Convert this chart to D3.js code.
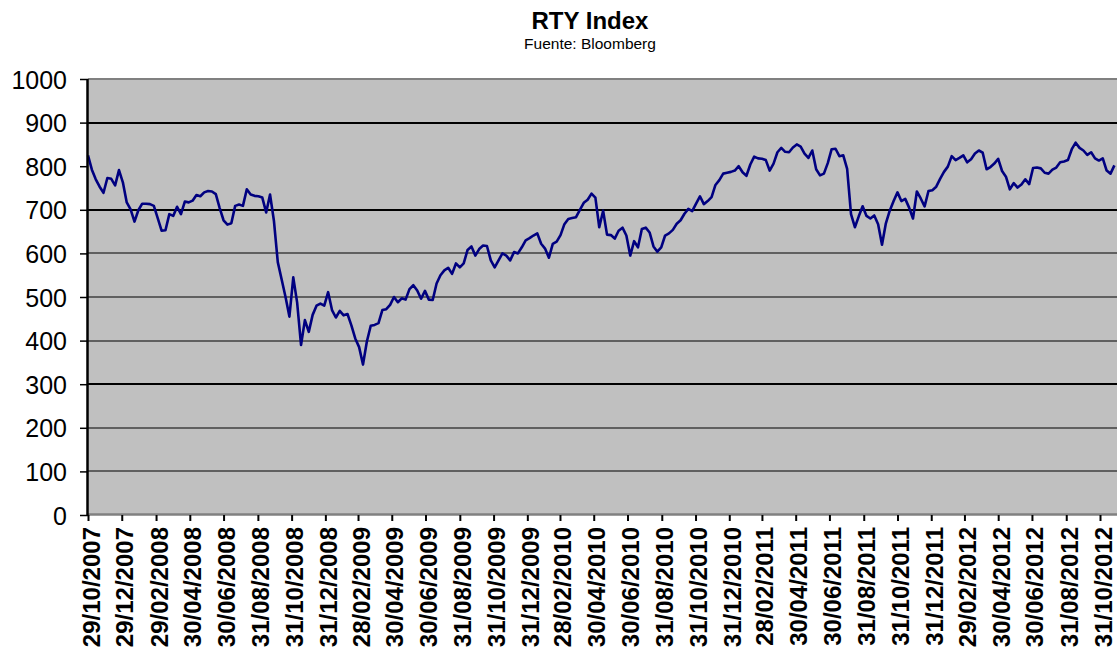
<!DOCTYPE html>
<html>
<head>
<meta charset="utf-8">
<script src="https://cdn.jsdelivr.net/npm/d3@7"></script>
<style>
  body { margin: 0; background: #fff; }
  svg { display: block; font-family: "Liberation Sans", Arial, sans-serif; }
</style>
</head>
<body>
<div id="chart"></div>
<script>
// data: RTY weekly closes, first week 29/10/2007
var firstWeek = "29/10/2007";
var weeklyClose = [
  825, 792, 770, 753, 739, 773, 771, 756, 791, 763,
  717, 701, 673, 699, 714, 714, 713, 709, 681, 652,
  653, 690, 686, 707, 690, 719, 717, 721, 734, 731,
  740, 743, 742, 736, 704, 676, 666, 669, 709, 712,
  709, 747, 735, 732, 731, 728, 694, 735, 675, 580,
  540, 500, 455, 545, 487, 390, 447, 420, 459, 480,
  485, 480, 511, 470, 453, 468, 458, 461, 435, 405,
  385, 345, 398, 434, 436, 440, 470, 472, 482, 500,
  488, 497, 494, 518, 527, 515, 496, 514, 494, 493,
  531, 550, 561, 567, 553, 577, 568, 577, 608, 616,
  595, 610, 618, 617, 584, 568, 584, 600, 595, 584,
  603, 600, 614, 630, 635, 641, 646, 622, 611, 590,
  622, 627, 642, 667, 679, 681, 683, 700, 716, 723,
  737, 728, 660, 698, 643, 642, 634, 652, 659, 641,
  595, 628, 614, 656, 659, 648, 616, 604, 614, 641,
  646, 654, 668, 676, 691, 702, 697, 714, 731, 713,
  720, 729, 757, 768, 783, 785, 787, 790, 800, 786,
  778, 804, 822, 818, 817, 814, 790, 806, 832, 842,
  833, 832, 843, 850, 845, 829, 819, 836, 793, 779,
  783, 807, 839, 840, 823, 825, 794, 690, 660, 685,
  708, 686, 680, 687, 667, 620, 669, 698, 720, 740,
  720, 725, 705, 680, 742, 726, 708, 743, 745, 753,
  771, 787, 799, 823, 814, 819, 825, 809, 816, 829,
  836, 831, 793, 798, 806, 817, 789, 776, 747, 761,
  751, 758, 770, 759, 796, 797, 795, 785, 783, 792,
  797, 809, 811, 814, 839, 854, 842, 836, 826, 832,
  818, 813, 818, 790, 783, 802
];

var xTickLabels = [
  "29/10/2007", "29/12/2007", "29/02/2008", "30/04/2008", "30/06/2008",
  "31/08/2008", "31/10/2008", "31/12/2008", "28/02/2009", "30/04/2009",
  "30/06/2009", "31/08/2009", "31/10/2009", "31/12/2009", "28/02/2010",
  "30/04/2010", "30/06/2010", "31/08/2010", "31/10/2010", "31/12/2010",
  "28/02/2011", "30/04/2011", "30/06/2011", "31/08/2011", "31/10/2011",
  "31/12/2011", "29/02/2012", "30/04/2012", "30/06/2012", "31/08/2012",
  "31/10/2012"
];
var yTicks = [0, 100, 200, 300, 400, 500, 600, 700, 800, 900, 1000];
var gridValues = [100, 200, 300, 400, 500, 600, 700, 900];
var thickGrid = [300, 700, 900];

var title = "RTY Index";
var subtitle = "Fuente: Bloomberg";

// 1: dimensions
var W = 1117, H = 658;
var plot = {left: 88, top: 79, right: 1117, bottom: 515};

var parseDate = d3.timeParse("%d/%m/%Y");
var start = parseDate(firstWeek);
var data = weeklyClose.map(function(v, i) {
  return {date: d3.timeDay.offset(start, 7 * i), value: v};
});
var tickDates = xTickLabels.map(parseDate);

// 2: svg
var svg = d3.select("#chart").append("svg")
    .attr("width", W)
    .attr("height", H);

// 3: scales
var x = d3.scaleTime()
    .domain([tickDates[0], tickDates[tickDates.length - 1]])
    .range([88, 1100]);
var y = d3.scaleLinear()
    .domain([0, 1000])
    .range([plot.bottom, plot.top]);

// plot area
svg.append("rect")
    .attr("x", plot.left)
    .attr("y", plot.top)
    .attr("width", plot.right - plot.left)
    .attr("height", plot.bottom - plot.top)
    .style("fill", "#c0c0c0");

// gridlines
svg.selectAll(".grid")
    .data(gridValues)
  .enter().append("line")
    .attr("class", "grid")
    .attr("x1", plot.left)
    .attr("x2", plot.right)
    .attr("y1", function(d) { return Math.round(y(d)); })
    .attr("y2", function(d) { return Math.round(y(d)); })
    .style("stroke", "#000")
    .style("stroke-width", function(d) { return thickGrid.indexOf(d) >= 0 ? 2 : 1.2; });

// top border (gray)
svg.append("line")
    .attr("x1", plot.left).attr("x2", plot.right)
    .attr("y1", plot.top).attr("y2", plot.top)
    .style("stroke", "#808080").style("stroke-width", 2);

// series
var line = d3.line()
    .x(function(d) { return x(d.date); })
    .y(function(d) { return y(d.value); });

svg.append("path")
    .datum(data)
    .attr("d", line)
    .style("fill", "none")
    .style("stroke", "#000080")
    .style("stroke-width", 2.6)
    .style("stroke-linejoin", "round");

// bottom axis line (gray)
svg.append("line")
    .attr("x1", plot.left).attr("x2", plot.right)
    .attr("y1", plot.bottom - 0.5).attr("y2", plot.bottom - 0.5)
    .style("stroke", "#808080").style("stroke-width", 2.5);

// y axis
var yAxis = svg.append("g")
    .attr("transform", "translate(" + plot.left + ",0)")
    .call(d3.axisLeft(y).tickValues(yTicks).tickFormat(d3.format("d")).tickSize(8).tickPadding(13));
yAxis.select(".domain").remove();
yAxis.selectAll(".tick line").style("stroke", "#000").style("stroke-width", 1.5);
yAxis.selectAll(".tick text")
    .style("font-size", "25px")
    .style("font-family", "Liberation Sans, Arial, sans-serif")
    .style("fill", "#000")
    .attr("dy", "0.36em");
svg.append("line")
    .attr("x1", plot.left - 0.5).attr("x2", plot.left - 0.5)
    .attr("y1", plot.top).attr("y2", plot.bottom + 1)
    .style("stroke", "#000").style("stroke-width", 2.5);

// x axis
var xAxis = svg.append("g")
    .attr("transform", "translate(0," + plot.bottom + ")")
    .call(d3.axisBottom(x)
      .tickValues(tickDates)
      .tickFormat(function(d, i) { return xTickLabels[i]; })
      .tickSize(6));
xAxis.select(".domain").remove();
xAxis.selectAll(".tick line").style("stroke", "#000").style("stroke-width", 2);
xAxis.selectAll(".tick text")
    .attr("transform", "translate(11,12) rotate(-90)")
    .attr("x", 0)
    .attr("y", 0)
    .attr("dy", null)
    .style("text-anchor", "end")
    .style("font-size", "24px")
    .style("font-weight", "bold")
    .style("font-family", "Liberation Sans, Arial, sans-serif")
    .style("fill", "#000");

// titles
svg.append("text")
    .attr("x", 590).attr("y", 29)
    .style("text-anchor", "middle")
    .style("font-size", "24px")
    .style("font-weight", "bold")
    .text(title);
svg.append("text")
    .attr("x", 590).attr("y", 49)
    .style("text-anchor", "middle")
    .style("font-size", "15.5px")
    .text(subtitle);
</script>
</body>
</html>
